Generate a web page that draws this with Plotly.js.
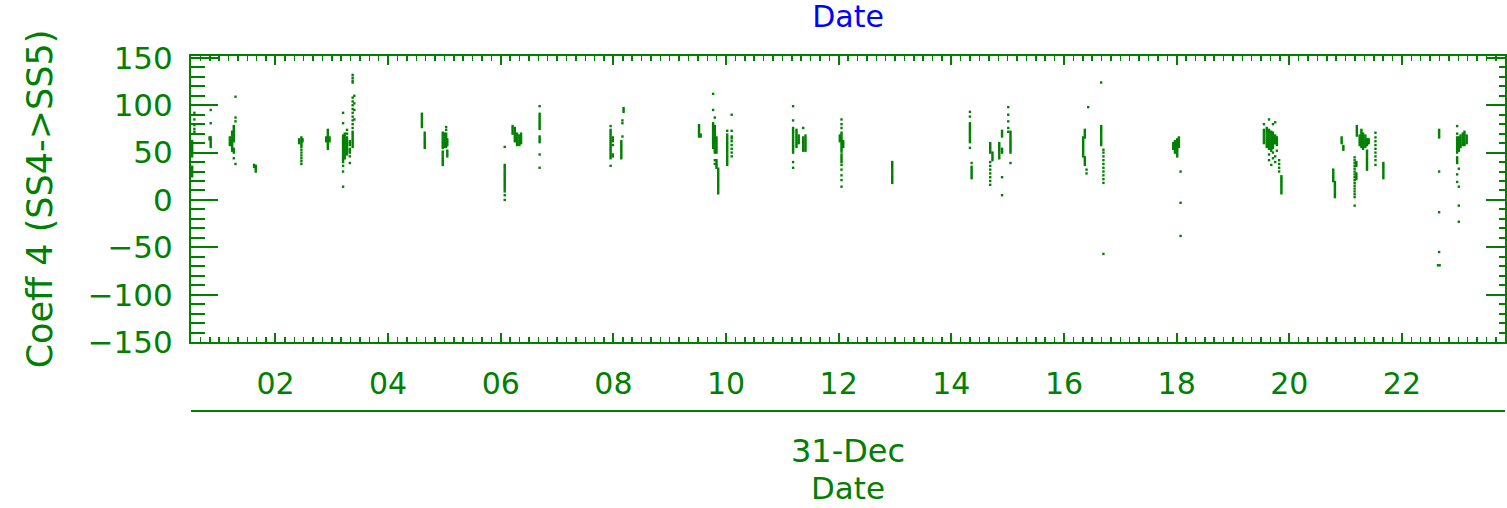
<!DOCTYPE html>
<html>
<head>
<meta charset="utf-8">
<script src="https://cdn.plot.ly/plotly-3.0.1.min.js"></script>
<style>html,body{margin:0;padding:0;background:#fff;}#chart{width:1507px;height:508px;}</style>
</head>
<body>
<div id="chart"></div>
<script>
// Hours of day (31-Dec) of each vertical column of samples
const colHour = [
  0.52, 0.56, 0.83, 0.85,
  1.19, 1.23, 1.26, 1.29, 1.62, 1.65,
  2.42, 2.46, 2.48, 2.90, 2.93, 2.96,
  3.20, 3.23, 3.27, 3.32, 3.37, 3.40,
  4.60, 4.65, 4.97, 5.00, 5.03, 5.05,
  6.07, 6.21, 6.25, 6.29, 6.33, 6.36, 6.69,
  7.95, 7.99, 8.14, 8.16, 8.18,
  9.52, 9.55, 9.77, 9.80, 9.83, 9.86, 10.02, 10.10,
  11.19, 11.25, 11.29, 11.37, 11.41,
  12.02, 12.05, 12.08, 12.95,
  14.33, 14.36, 14.69, 14.73, 14.85, 14.90, 15.01, 15.05,
  16.34, 16.37, 16.40, 16.43, 16.66, 16.70,
  17.94, 17.97, 18.01, 18.04, 18.07,
  19.55, 19.60, 19.64, 19.68, 19.71, 19.75, 19.78, 19.82, 19.86,
  20.78, 20.81, 20.93, 20.96,
  21.16, 21.19, 21.20, 21.25, 21.28, 21.31, 21.35, 21.38, 21.41, 21.53, 21.67,
  22.64, 22.66, 22.67,
  22.98, 23.01, 23.04, 23.08, 23.11, 23.15
];
// Coeff 4 (SS4->SS5) values in each column
const colValues = [
  [25,27,29,31,33,35,46,48,50,52,54,56,58,60,62], [72,75,79,85,92], [64,66], [56,58,60,62,64,66,81,95],
  [58,60,62,64,66], [52,54,56,58,60,62,64,66,68,70,72], [44,50,52,54,62,64,66,68,70,72,74,76,78], [38,83,87,109], [35,37], [30,32,34,36],
  [60,62,64], [38,41,44,47,50,53,56,58,60,62,64,66], [62,64], [62,64,66], [54,56,58,60,62,64,66,68,70,72,74], [62,64,66],
  [14,30,36,40,42,44,46,48,50,52,54,56,58,60,62,64,66,68,81,92], [44,46,48,50,52,54,56,58,60,62,64,66,68,70], [48,50,52,54,56,58,60,62,64,66,70,74], [39,46,50,52,54,58,60,62], [56,58,60,62,64,66,68,70,72,76,80,84,88,92,96,100,104,108,124,126,129,132], [85,95,102,110],
  [77,79,81,83,85,87,89,91], [55,57,59,61,63,65,67,69,71], [37,39,41,43,45,47,49,51,55,57,59,61,63,65,67,69,71], [56,58,60,62,64,66,68,70], [56,58,60,62,64,66,68,70,74,77], [46,48,50,52,58,60,62,64],
  [56,37,35,33,31,29,27,25,23,21,19,17,15,13,11,9,5,0], [70,72,74,76,78], [62,64,66,68,70,72,74,76], [58,60,62,64,66,68,70], [58,60,62,64,66,68], [60,62,64,66,68,70], [99,91,89,87,85,83,81,79,77,75,67,65,63,61,48,34],
  [78,74,72,70,68,66,64,62,60,58,56,54,52,50,48,46,44,36], [46,48,58,62,64,66], [44,46,48,50,52,54,56,58,60,62], [67,81,84], [93,95,97],
  [67,69,71,73,75,77,79], [67,69], [112,95,55,57,59,61,63,65,67,69,71,73,75,77,79,81], [87,50,52,54,56,58,60,62,64,66,68,70,72,74,76,78,42,38], [50,52,54,56,58,60,62,64,66,34,36,38,40,42], [7,9,11,13,15,17,19,21,23,25,27,29,31,33], [73,37,39,41,43,45,47,49,51,53,55,57,59,61,63,65,67,69], [90,73,46,50,54,58,62,65,67],
  [99,84,50,52,54,56,58,60,62,64,66,68,70,72,74,76,40,34], [56,58,60,62,64,66,68,70,72,74], [60,62,64,66,68], [76,52,54,56,58,60,62,64,66], [52,54,56,58,60,62,64,66,68],
  [62,64,66,68], [85,80,76,51,53,55,57,59,61,63,65,67,69,71,40,42,44,46,48,37,32,26,21,14], [56,58,60,62], [18,20,22,24,26,28,30,32,34,36,38,40],
  [93,88,61,63,65,67,69,71,73,75,77,79,81,55], [39,23,25,27,29,31,33,35], [50,52,54,56,58,60,40,36,32,28,24,20,16], [42,44,46,48,50], [44,46,48,50,52,54,56,58,60], [67,69,71,73,50,52,54,24,5], [98,90,83,76,72], [50,52,54,56,58,60,62,64,66,68,70,72,39],
  [46,48,50,52,54,56,58,60,62,64,66], [37,39,41,43,45,66,68,70,72,74], [28,32], [98], [124,58,60,62,64,66,68,70,72,74,76,78], [53,50,46,42,38,34,30,26,22,18,-57],
  [54,56,58,60], [50,52,54,56,58,60,62], [46,48,50,52,54,56,58,60,62,64], [56,58,60,62,64,66], [30,-3,-38],
  [80,60,62,64,66,68,70,72,74], [56,58,60,62,64,66,68,70,72,74,76], [85,54,56,58,60,62,64,66,68,70,72,74,48,42], [52,54,56,58,60,62,64,66,68,70,72,37], [80,55,57,59,61,63,65,67,69,71,50,44], [82,60,62,64,66,68,46,40], [58,60,62,64,66,52], [30,34,38,42], [7,9,11,13,15,17,19,21,23,25],
  [20,22,24,26,28,30,32], [3,5,7,9,11,13,15,17,19], [60,62,64,66], [53,55,57],
  [45,42,39,36,33,30,27,24,21,18,15,12,9,6,3,-6], [40,38,36,28,26,24,22], [68,70,72,74,76,78], [58,60,62,64,66,68], [56,58,60,62,64,66,68,70,72,74], [54,56,58,60,62,64,66,68,70], [56,58,60,62,64,66,68], [58,60,62,64,32,34,36,38,40,42,44,46,48,50,52], [60,62,64], [71,66,62,58,54,50,46,42,37], [23,25,27,29,31,33,35,37,39],
  [-69], [66,68,70,72,74,30,-13,-55], [-69],
  [78,70,50,52,54,56,58,60,62,64,66,45,43,41,39,27,19], [52,54,56,58,60,62,64,66,33,14,-6,-23], [56,58,60,62,64,66,68], [58,60,62,64,66,68,70], [58,60,62,64,66,68,70,72], [60,62,64,66,68]
];
const hourTicks = [2, 4, 6, 8, 10, 12, 14, 16, 18, 20, 22];
const hourLabels = ['02', '04', '06', '08', '10', '12', '14', '16', '18', '20', '22'];
const yTicks = [-150, -100, -50, 0, 50, 100, 150];
const dayLabel = ['31-Dec'];
const xRange = [0.5, 23.83];
const yRange = [-150, 152];

const xs = [], ys = [];
colHour.forEach((h, i) => { colValues[i].forEach(v => { xs.push(h); ys.push(v); }); });

const G = '#008000';
const FONT = 'DejaVu Sans, sans-serif';

const traces = [
  {x: xs, y: ys, type: 'scatter', mode: 'markers', xaxis: 'x', yaxis: 'y',
   marker: {symbol: 'square', size: 2.4, color: G, line: {width: 0}}, hoverinfo: 'x+y'},
  {x: [null], y: [null], type: 'scatter', mode: 'markers', xaxis: 'x', yaxis: 'y2', hoverinfo: 'skip'},
  {x: [null], y: [null], type: 'scatter', mode: 'markers', xaxis: 'x3', yaxis: 'y', hoverinfo: 'skip'}
];

const layout = {
  width: 1507, height: 508, autosize: false, showlegend: false,
  paper_bgcolor: '#ffffff', plot_bgcolor: '#ffffff',
  margin: {l: 191, r: 2, t: 56, b: 97, pad: 0},
  title: {text: 'Date', font: {family: FONT, size: 30, color: '#0000ff'},
          x: 0.5, xref: 'paper', xanchor: 'center', y: 1 - 16 / 508, yref: 'container', yanchor: 'middle'},
  xaxis: {
    range: xRange, anchor: 'y', tickmode: 'array', tickvals: hourTicks, ticktext: hourLabels,
    ticks: 'inside', ticklen: 9, tickwidth: 2, tickcolor: G,
    showline: true, linecolor: G, linewidth: 2, mirror: 'ticks',
    showgrid: false, zeroline: false,
    minor: {ticks: 'inside', ticklen: 5, tickwidth: 1.5, tickcolor: G, tick0: 0, dtick: 1/6, showgrid: false},
    tickfont: {family: FONT, size: 30, color: G}, ticklabelstandoff: 14
  },
  yaxis: {
    domain: [69 / 355, 1], range: yRange, tickmode: 'array', tickvals: yTicks,
    ticks: 'inside', ticklen: 27, tickwidth: 2, tickcolor: G,
    showline: true, linecolor: G, linewidth: 2, mirror: false,
    showgrid: false, zeroline: false,
    minor: {ticks: 'inside', ticklen: 14, tickwidth: 2, tickcolor: G, tick0: 0, dtick: 10, showgrid: false},
    tickfont: {family: FONT, size: 31, color: G}, ticklabelstandoff: 10,
    title: {text: 'Coeff 4 (SS4->SS5)', font: {family: FONT, size: 35, color: G}, standoff: 24}
  },
  yaxis2: {
    overlaying: 'y', side: 'right', anchor: 'x', range: yRange, tickmode: 'array', tickvals: yTicks,
    ticks: 'inside', ticklen: 19, tickwidth: 2, tickcolor: G, showticklabels: false,
    showline: true, linecolor: G, linewidth: 2, showgrid: false, zeroline: false,
    minor: {ticks: 'inside', ticklen: 6, tickwidth: 2, tickcolor: G, tick0: 0, dtick: 10, showgrid: false}
  },
  xaxis3: {
    overlaying: 'x', anchor: 'free', position: 0, side: 'bottom', range: xRange,
    tickmode: 'array', tickvals: [(xRange[0] + xRange[1]) / 2], ticktext: dayLabel,
    ticks: '', showline: true, linecolor: G, linewidth: 2, showgrid: false, zeroline: false,
    tickfont: {family: FONT, size: 32, color: G}, ticklabelstandoff: 12,
    title: {text: 'Date', font: {family: FONT, size: 31, color: G}, standoff: 5}
  }
};

Plotly.newPlot('chart', traces, layout, {displayModeBar: false, staticPlot: true});
</script>
</body>
</html>
